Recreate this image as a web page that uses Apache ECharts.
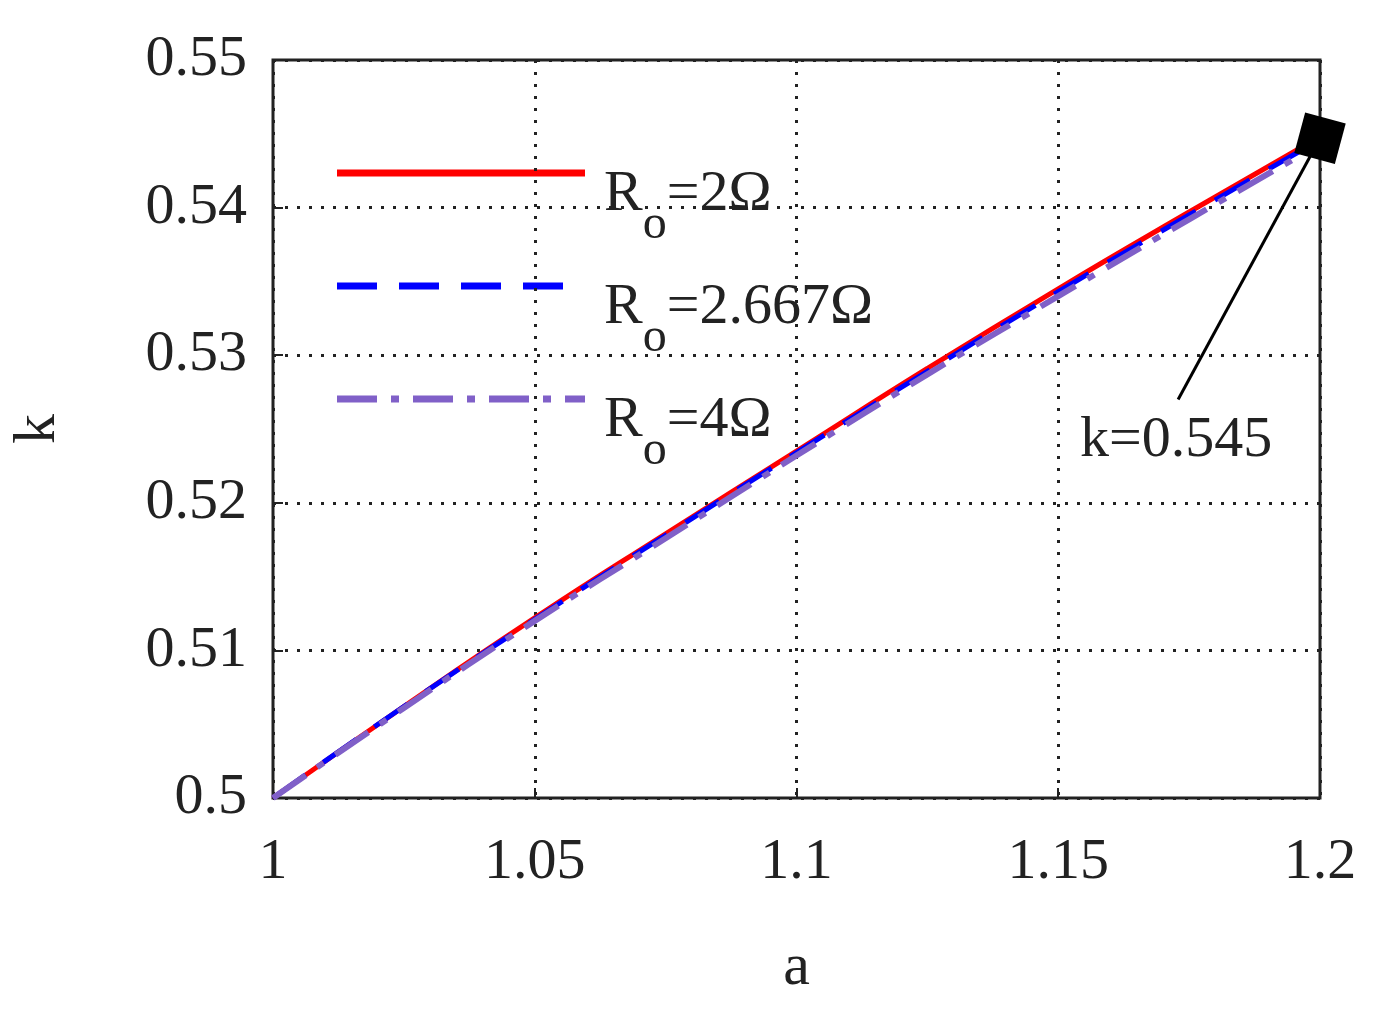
<!DOCTYPE html>
<html><head><meta charset="utf-8">
<script src="https://cdn.jsdelivr.net/npm/echarts@6/dist/echarts.min.js"></script>
<style>body{margin:0}#c{width:1392px;height:1022px}</style></head>
<body><div id="c"></div>
<script>
const aVals=[1,1.025,1.05,1.075,1.1,1.125,1.15,1.175,1.2];
const k2=[0.5,0.5062,0.5122,0.5179,0.5235,0.5291,0.5345,0.5397,0.5448];
const k267=[0.5,0.5062,0.5121,0.5178,0.5234,0.5289,0.5343,0.5395,0.5446];
const k4=[0.5,0.5061,0.5120,0.5176,0.5232,0.5287,0.5340,0.5392,0.5443];
const legendNames=['=2Ω','=2.667Ω','=4Ω'];
const colors=['#ff0000','#0000ff','#8060c8'];
const dashes=['solid',[40,22],[40,14,8,14]];
const F='Liberation Serif';
const pair=(ys)=>aVals.map((a,i)=>[a,ys[i]]);
const chart=echarts.init(document.getElementById('c'));
const legendGraphics=[];
legendNames.forEach((n,i)=>{
  const y=173+i*113;
  legendGraphics.push({type:'line',shape:{x1:337,y1:y,x2:585,y2:y},style:{stroke:colors[i],lineWidth:7,lineDash:dashes[i]==='solid'?null:dashes[i]}});
  legendGraphics.push({type:'text',x:604,y:y-32,style:{text:'R{s|o}'+n,font:'58px "'+F+'"',fill:'#222',
   rich:{s:{font:'48px "'+F+'"',fill:'#222',padding:[60,0,0,0]}}}});
});
legendGraphics.push({type:'text',x:1080,y:412,style:{text:'k=0.545',font:'58px "'+F+'"',fill:'#222'}});
chart.setOption({
 animation:false,backgroundColor:'#fff',
 grid:{left:271,right:72,top:60,bottom:224,show:true,borderColor:'#222',borderWidth:3,backgroundColor:'transparent'},
 xAxis:{type:'value',min:1,max:1.2,interval:0.05,name:'a',nameLocation:'middle',nameGap:140,
  nameTextStyle:{fontFamily:F,fontSize:60,color:'#222'},
  axisLine:{show:false},axisTick:{inside:true,length:10,lineStyle:{color:'#222',width:2}},
  axisLabel:{fontFamily:F,fontSize:58,color:'#222',margin:36,formatter:v=>String(+v.toFixed(2))},
  splitLine:{lineStyle:{type:[3,9],color:'#222',width:3}}},
 yAxis:{type:'value',min:0.5,max:0.55,interval:0.01,name:'k',nameLocation:'middle',nameGap:205,
  nameTextStyle:{fontFamily:F,fontSize:60,color:'#222'},
  axisLine:{show:false},axisTick:{inside:true,length:10,lineStyle:{color:'#222',width:2}},
  axisLabel:{fontFamily:F,fontSize:58,color:'#222',margin:26,formatter:v=>String(+v.toFixed(2))},
  splitLine:{lineStyle:{type:[3,9],color:'#222',width:3}}},
 graphic:legendGraphics,
 series:[
  {type:'line',data:pair(k2),smooth:true,showSymbol:false,lineStyle:{color:colors[0],width:5}},
  {type:'line',data:pair(k267),smooth:true,showSymbol:false,lineStyle:{color:colors[1],width:5,type:dashes[1]}},
  {type:'line',data:pair(k4),smooth:true,showSymbol:false,lineStyle:{color:colors[2],width:6,type:dashes[2]},
   markLine:{silent:true,symbol:'none',label:{show:false},lineStyle:{color:'#000',width:3,type:'solid'},
    data:[[{coord:[1.2,0.5447]},{coord:[1.1729,0.5270]}]]}},
  {type:'scatter',data:[[1.2,0.5447]],symbol:'rect',symbolSize:42,symbolRotate:-15,itemStyle:{color:'#000',opacity:1},z:10}
 ]
});
</script></body></html>
